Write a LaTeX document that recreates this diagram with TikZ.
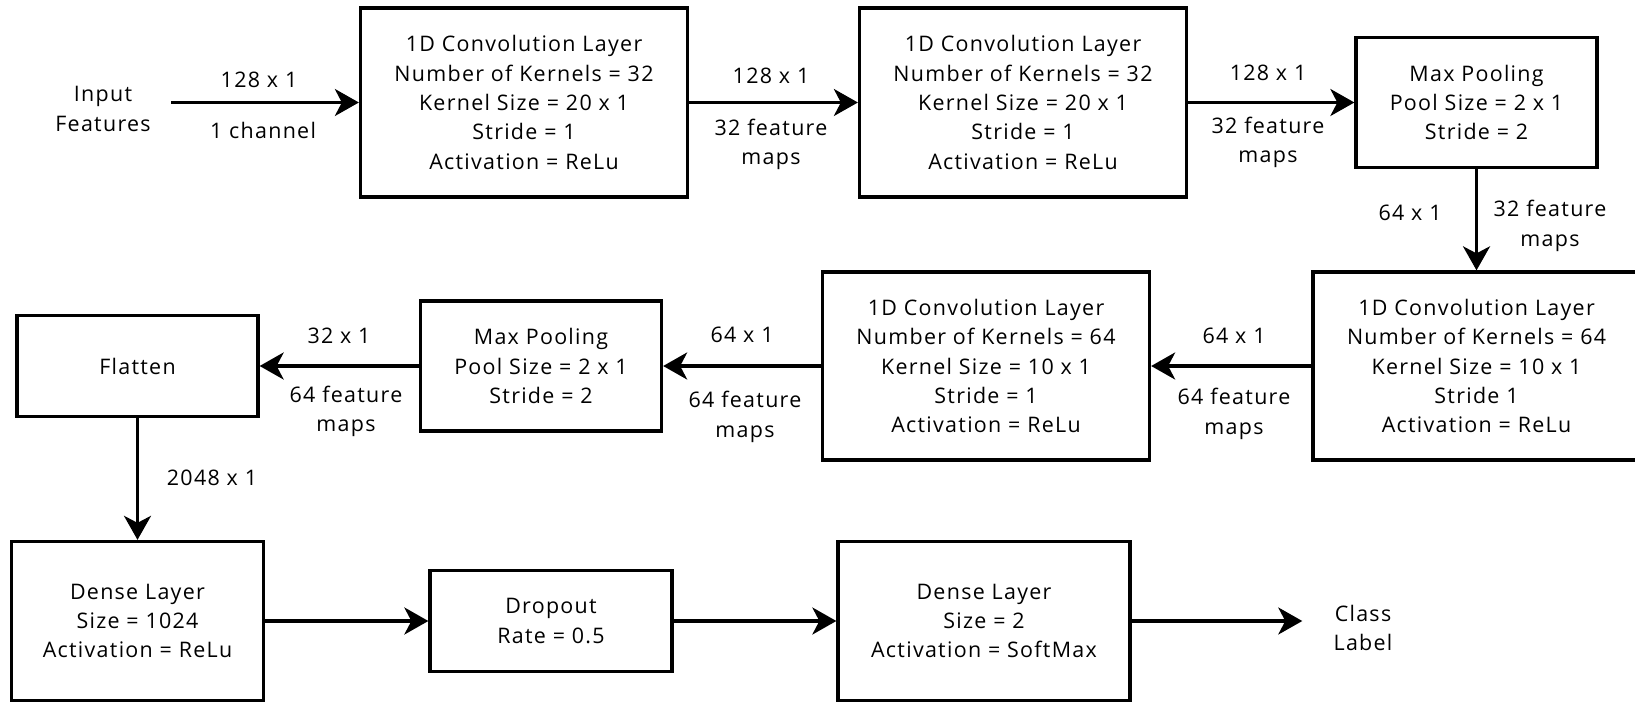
\documentclass[tikz,border=0pt]{standalone}
\usepackage{fontspec}
\setmainfont{Open Sans}[LetterSpace=6]
\usepackage{tikz}
\usetikzlibrary{arrows.meta,calc}

\begin{document}
\begin{tikzpicture}[x=0.02cm,y=-0.02cm,
  every node/.style={font=\fontsize{12.2}{16.7}\selectfont, align=center},
  layer/.style={draw, line width=1.9pt, inner sep=0pt},
  lines/.style={layer, text depth=-3.5pt},
  conv/.style={lines, minimum width=6.54cm, minimum height=3.78cm},
  pool/.style={lines, minimum width=4.82cm, minimum height=2.6cm},
  flow/.style={line width=1.9pt, -{Stealth[length=0.48cm, width=0.54cm, inset=0.14cm]}}]
\useasboundingbox (0,0) rectangle (1635,702);
% first row
\node[inner xsep=0.4cm] (input) at (103,109) {Input\\Features};
\node[conv] (conv1) at (524,102.5) {1D Convolution Layer\\Number of Kernels = 32\\Kernel Size = 20 x 1\\Stride = 1\\Activation = ReLu};
\node[conv] (conv2) at (1023,102.5) {1D Convolution Layer\\Number of Kernels = 32\\Kernel Size = 20 x 1\\Stride = 1\\Activation = ReLu};
\node[pool] (pool1) at (1476.5,102.5) {Max Pooling\\Pool Size = 2 x 1\\Stride = 2};
% second row
\node[conv, minimum height=3.76cm] (conv3) at (1476.5,366) {1D Convolution Layer\\Number of Kernels = 64\\Kernel Size = 10 x 1\\Stride 1\\Activation = ReLu};
\node[conv, minimum height=3.76cm] (conv4) at (986,366) {1D Convolution Layer\\Number of Kernels = 64\\Kernel Size = 10 x 1\\Stride = 1\\Activation = ReLu};
\node[pool] (pool2) at (541,366) {Max Pooling\\Pool Size = 2 x 1\\Stride = 2};
\node[layer, minimum width=4.82cm, minimum height=2.02cm] (flatten) at (137.5,366) {Flatten};
% third row
\node[lines, minimum width=5.04cm, minimum height=3.18cm] (dense1) at (137.5,621) {Dense Layer\\Size = 1024\\Activation = ReLu};
\node[lines, minimum width=4.84cm, minimum height=2.02cm] (dropout) at (551,621) {Dropout\\Rate = 0.5};
\node[lines, minimum width=5.84cm, minimum height=3.18cm] (dense2) at (984,621) {Dense Layer\\Size = 2\\Activation = SoftMax};
\node[inner xsep=0.62cm] (output) at (1363,628) {Class\\Label};

% connectors
\draw[flow] (input.east |- conv1) -- (conv1);
\draw[flow] (conv1) -- (conv2);
\draw[flow] (conv2) -- (pool1);
\draw[flow] (pool1) -- (conv3);
\draw[flow] (conv3) -- (conv4);
\draw[flow] (conv4) -- (pool2);
\draw[flow] (pool2) -- (flatten);
\draw[flow] (flatten) -- (dense1);
\draw[flow] (dense1) -- (dropout);
\draw[flow] (dropout) -- (dense2);
\draw[flow] (dense2) -- (output.west |- dense2);

% sizes on the connectors
\node (size1) at (259,80) {128 x 1};
\node (maps1) at (263,130) {1 channel};
\node (size2) at (771,76) {128 x 1};
\node (maps2) at (771,144.5) {32 feature\\maps};
\node (size3) at (1268,73) {128 x 1};
\node (maps3) at (1268,142.5) {32 feature\\maps};
\node (size4) at (1410,213) {64 x 1};
\node (maps4) at (1550,226) {32 feature\\maps};
\node (size5) at (1234,336) {64 x 1};
\node (maps5) at (1234,414) {64 feature\\maps};
\node (size6) at (742,335) {64 x 1};
\node (maps6) at (745,417) {64 feature\\maps};
\node (size7) at (339,336) {32 x 1};
\node (maps7) at (346,411.5) {64 feature\\maps};
\node (size8) at (212,478) {2048 x 1};
\end{tikzpicture}
\end{document}
